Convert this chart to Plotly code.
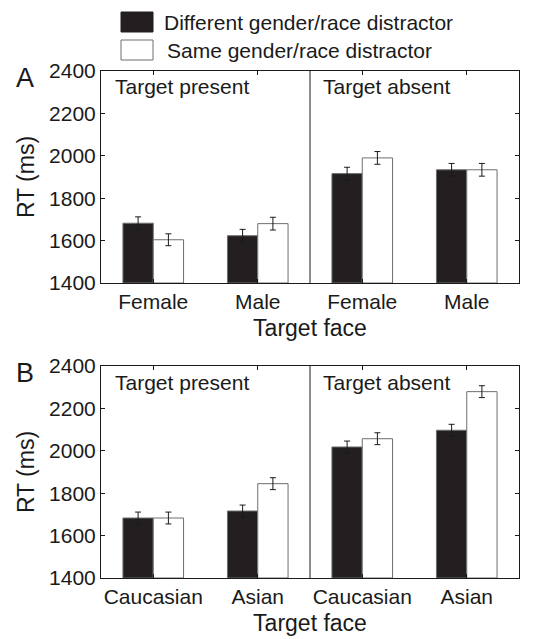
import plotly.graph_objects as go

# ---- data ----
series_names = ["Different gender/race distractor", "Same gender/race distractor"]
panel_letters = ["A", "B"]
condition_labels = ["Target present", "Target absent"]
cats_A = ["Female", "Male", "Female", "Male"]
cats_B = ["Caucasian", "Asian", "Caucasian", "Asian"]
diff_A = [1682, 1623, 1916, 1934]
same_A = [1604, 1680, 1990, 1934]
diff_A_err = [30, 30, 30, 30]
same_A_err = [28, 30, 30, 30]
diff_B = [1683, 1716, 2018, 2097]
same_B = [1683, 1845, 2057, 2279]
diff_B_err = [28, 28, 28, 28]
same_B_err = [28, 28, 28, 28]
y_ticks = [1400, 1600, 1800, 2000, 2200, 2400]
x_title = "Target face"
y_title = "RT (ms)"

W, H = 542, 639
FONT = "Liberation Sans, Arial, sans-serif"
DARK = "#231f20"
EDGE = "#6e6e6e"
AX = "#1a1a1a"
TXT = "#1a1a1a"
pos = [1, 2, 3, 4]
bw = 0.29

fig = go.Figure()

panels = [
    (cats_A, diff_A, same_A, diff_A_err, same_A_err, "x", "y"),
    (cats_B, diff_B, same_B, diff_B_err, same_B_err, "x2", "y2"),
]
for cats, d, s, de, se, xa, ya in panels:
    fig.add_trace(go.Bar(x=pos, y=[v - 1400 for v in d], base=1400, width=bw, offset=-bw,
                         marker=dict(color=DARK, line=dict(color=EDGE, width=1)),
                         error_y=dict(type="data", array=de, color=AX, thickness=1, width=3),
                         name=series_names[0], showlegend=False, xaxis=xa, yaxis=ya))
    fig.add_trace(go.Bar(x=pos, y=[v - 1400 for v in s], base=1400, width=bw, offset=0,
                         marker=dict(color="white", line=dict(color=EDGE, width=1)),
                         error_y=dict(type="data", array=se, color=AX, thickness=1, width=3),
                         name=series_names[1], showlegend=False, xaxis=xa, yaxis=ya))

def px2x(p):
    return p / W

def px2y(p):
    return 1 - p / H

domA = [px2y(283), px2y(71)]
domB = [px2y(578), px2y(366)]
xdom = [px2x(101), px2x(519)]

axis_common = dict(showline=True, linecolor=AX, linewidth=1, mirror="ticks", ticks="inside",
                   ticklen=4, tickcolor=AX, showgrid=False, zeroline=False, automargin=False,
                   tickfont=dict(family=FONT, size=21, color=TXT))

for i, (cats, xa, ya, dom) in enumerate([(cats_A, "xaxis", "yaxis", domA), (cats_B, "xaxis2", "yaxis2", domB)]):
    yname = "y" if i == 0 else "y2"
    xname = "x" if i == 0 else "x2"
    fig.layout[xa] = dict(axis_common, domain=xdom, range=[0.5, 4.5], tickvals=pos, ticktext=cats,
                          anchor=yname,
                          title=dict(text=x_title, font=dict(family=FONT, size=23, color=TXT), standoff=7))
    fig.layout[ya] = dict(axis_common, domain=dom, range=[1400, 2400], tickvals=y_ticks,
                          anchor=xname,
                          title=dict(text=y_title, font=dict(family=FONT, size=23, color=TXT), standoff=8))
    # divider between conditions
    fig.add_shape(type="line", x0=2.5, x1=2.5, y0=0, y1=1, xref=xname, yref=f"{yname} domain",
                  line=dict(color=AX, width=1))
    # condition labels
    top_px = 71 if i == 0 else 366
    for j, cx in enumerate([113, 321]):
        fig.add_annotation(text=condition_labels[j], x=px2x(cx), y=px2y(top_px + 16), xref="paper", yref="paper",
                           xanchor="left", yanchor="middle", showarrow=False,
                           font=dict(family=FONT, size=21, color=TXT))
    # panel letter
    fig.add_annotation(text=panel_letters[i], x=px2x(25), y=px2y(top_px + 7), xref="paper", yref="paper",
                       xanchor="center", yanchor="middle", showarrow=False,
                       font=dict(family=FONT, size=27, color=TXT))

# legend (manual)
for k, (fill, ytop, tx) in enumerate([(DARK, 12, 162), ("white", 40, 165)]):
    fig.add_shape(type="rect", x0=px2x(121), x1=px2x(153), y0=px2y(ytop + 20), y1=px2y(ytop),
                  xref="paper", yref="paper", fillcolor=fill, line=dict(color=EDGE if k else DARK, width=1))
    fig.add_annotation(text=series_names[k], x=px2x(tx), y=px2y(ytop + 10), xref="paper", yref="paper",
                       xanchor="left", yanchor="middle", showarrow=False,
                       font=dict(family=FONT, size=21, color=TXT))

fig.update_layout(width=W, height=H, margin=dict(l=0, r=0, t=0, b=0, autoexpand=False),
                  plot_bgcolor="white", paper_bgcolor="white", barmode="overlay",
                  showlegend=False, font=dict(family=FONT, color=TXT))

fig.write_html("out.html")
